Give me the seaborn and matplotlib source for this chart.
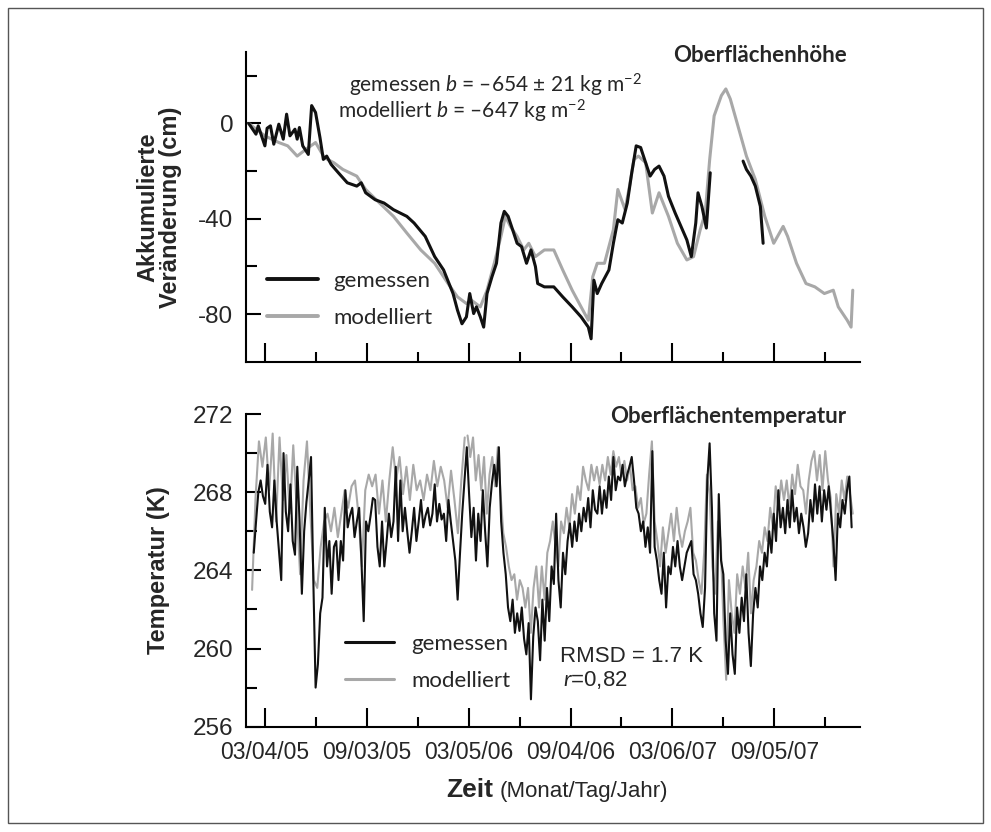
import matplotlib
matplotlib.use("Agg")
import matplotlib.pyplot as plt
import matplotlib.dates as mdates
from matplotlib.lines import Line2D
from matplotlib.patches import Rectangle
from matplotlib.ticker import FixedLocator, NullFormatter
import numpy as np
import pandas as pd
import seaborn as sns

sns.set_style("white")
plt.rcParams["font.family"] = ["Liberation Sans", "DejaVu Sans"]
plt.rcParams["axes.unicode_minus"] = False
plt.rcParams["mathtext.fontset"] = "custom"
plt.rcParams["mathtext.rm"] = "Lato"
plt.rcParams["mathtext.it"] = "Lato:italic"
plt.rcParams["mathtext.bf"] = "Lato:bold"

SCHWARZ = "#111111"
GRAU = "#a8a8a8"

# Bezugsdatum 03/04/05, Ticks alle 183 Tage
bezug = pd.Timestamp("2005-03-04")
tick_tage = [0, 183, 366, 549, 732, 915]

# ---- Oberflaechenhoehe (Tage seit 03/04/05, cm)
hoehe_gem_tage = [-29, -16, -12, 0, 4, 10, 16, 25, 33, 39,
                  45, 54, 58, 62, 68, 78, 84, 91, 99, 105,
                  111, 119, 132, 148, 165, 173, 181, 198, 214, 231,
                  243, 255, 268, 288, 305, 321, 338, 346, 354, 362,
                  368, 375, 380, 387, 393, 399, 408, 416, 424, 430,
                  437, 445, 453, 461, 470, 478, 486, 490, 502, 519,
                  535, 552, 568, 581, 586, 591, 597, 605, 618, 626,
                  634, 642, 651, 659, 667, 675, 684, 692, 700, 708,
                  717, 725, 737, 750, 758, 766, 774, 778, 785, 793,
                  800]
hoehe_gem_cm = [0.0, -4.5, -1.0, -9.4, -2.0, -1.0, -8.7, -0.3, -6.6, 3.9,
                -5.2, -2.4, -6.6, -1.7, -9.4, -13.0, 7.5, 4.6, -6.0, -15.1,
                -13.7, -17.2, -20.7, -24.9, -26.3, -24.9, -29.1, -32.0, -33.4, -36.2,
                -37.6, -39.0, -41.8, -47.4, -55.9, -61.5, -71.4, -78.4, -84.1, -81.2,
                -71.4, -79.8, -77.0, -81.2, -85.5, -71.4, -64.3, -58.7, -41.8, -36.9,
                -39.0, -44.6, -50.3, -51.7, -58.7, -53.1, -60.1, -67.2, -68.6, -68.6,
                -72.8, -77.0, -81.2, -85.5, -90.4, -65.8, -71.4, -67.2, -61.5, -50.3,
                -40.4, -41.8, -33.4, -20.7, -9.4, -10.1, -16.5, -22.1, -19.3, -17.9,
                -22.1, -30.6, -37.6, -44.6, -48.9, -55.9, -41.8, -29.1, -34.8, -43.9,
                -20.7]
# zweites Stueck nach der Messluecke
hoehe_gem2_tage = [859, 865, 873, 881, 890, 895]
hoehe_gem2_cm = [-15.8, -19.3, -22.1, -26.3, -34.8, -50.3]

hoehe_mod_tage = [-29, 0, 25, 41, 58, 74, 91, 107, 124, 140,
                  165, 181, 206, 231, 255, 280, 305, 329, 346, 362,
                  371, 387, 399, 412, 424, 432, 441, 453, 465, 474,
                  486, 502, 519, 535, 552, 568, 581, 589, 597, 610,
                  626, 634, 647, 655, 663, 671, 684, 696, 708, 725,
                  741, 758, 770, 782, 791, 799, 807, 820, 828, 836,
                  848, 865, 881, 898, 914, 931, 939, 955, 972, 988,
                  1005, 1021, 1030, 1046, 1053, 1056]
hoehe_mod_cm = [0.0, -5.2, -8.0, -9.4, -13.7, -10.8, -8.0, -14.4, -16.5, -19.3,
                -22.1, -27.7, -33.4, -39.0, -46.0, -53.1, -58.7, -67.2, -72.8, -75.6,
                -74.2, -77.0, -70.0, -58.7, -47.4, -39.0, -43.2, -47.4, -53.1, -50.3,
                -55.9, -53.1, -53.1, -61.5, -70.0, -77.0, -82.6, -64.3, -58.7, -58.7,
                -44.6, -27.7, -36.2, -26.3, -15.1, -13.7, -16.5, -37.6, -29.1, -39.0,
                -50.3, -57.3, -55.9, -44.6, -37.6, -15.1, 3.2, 11.7, 14.5, 10.3,
                0.4, -13.7, -23.5, -39.0, -50.3, -43.2, -47.4, -58.7, -67.2, -68.6,
                -71.4, -70.0, -77.0, -82.6, -85.5, -70.0]

# ---- Oberflaechentemperatur (K), gleichmaessig zwischen Start und Ende
temp_gem_start, temp_gem_ende = "2005-02-12", "2008-01-22"
temp_gem_K = [
    264.9, 266.5, 268.0, 268.6, 267.8, 267.4, 269.4, 267.0, 266.2, 268.6,
    266.5, 265.0, 263.5, 270.0, 267.0, 266.0, 268.4, 265.5, 264.8, 269.3,
    266.5, 262.8, 266.0, 267.5, 268.6, 269.8, 263.5, 258.0, 259.2, 261.8,
    262.6, 267.2, 264.2, 265.5, 262.8, 265.2, 265.5,
    263.5, 265.5, 264.5, 268.1, 266.2, 266.8, 267.2, 265.7, 266.5, 267.2,
    264.5, 261.4, 266.5, 266.0, 266.8, 267.7, 267.6, 265.2, 264.2, 266.5,
    264.2, 265.5, 266.9, 265.7, 266.5, 269.3, 265.5, 268.6, 266.0, 267.2,
    266.0, 264.9, 266.0, 267.2, 265.5, 266.5, 267.6, 266.2, 266.8, 267.2,
    266.3, 266.9, 268.4, 266.5, 267.4, 266.6, 266.9, 265.5, 267.6, 266.5,
    265.5, 264.5, 262.5, 264.8, 266.9, 268.6, 270.3, 267.9, 265.7, 267.2,
    264.5, 266.9, 265.5, 268.1, 266.0, 264.2, 267.2, 268.5, 269.4, 268.3,
    270.3, 266.5, 264.9, 263.8, 262.1, 261.4, 262.5, 260.8, 261.8, 260.9,
    262.1, 260.5, 259.7, 261.3, 257.4,
    260.6, 262.1, 261.4, 259.4, 262.5, 260.4, 263.1, 261.4, 264.2, 263.3,
    266.9, 263.5, 262.1, 264.9, 263.8, 265.5, 266.4, 265.2, 266.5, 265.5,
    266.9, 266.0, 267.2, 266.5, 267.7, 266.2, 268.1, 267.1, 266.9, 268.3,
    266.9, 268.1, 267.2, 268.8, 267.6, 269.8, 268.1, 268.8, 268.6, 269.4,
    268.3, 268.9, 269.3, 269.8, 268.6, 267.2, 266.9, 266.0, 266.5, 265.2,
    266.2, 264.9, 270.1, 265.2, 264.5, 263.5, 262.8, 264.9, 262.1, 264.2,
    263.8, 265.2, 264.2, 265.5, 264.2, 263.5, 264.2, 264.9, 265.2, 265.5,
    263.8, 263.5, 262.8, 261.8, 261.1, 263.1, 268.6, 270.5, 267.2, 261.8,
    260.4, 267.9, 264.5, 263.8, 260.4, 258.7, 261.8, 259.7, 258.7, 262.1,
    260.8, 262.6, 261.4, 263.8, 260.8, 259.1, 261.8, 263.1, 262.1, 264.2,
    263.5, 264.9, 264.2, 266.0, 264.9, 266.9, 265.5, 268.1, 266.2, 267.2,
    265.9, 267.6, 266.2, 268.1, 266.5, 267.2, 265.9, 266.9, 266.2, 265.2,
    265.9, 267.6, 266.5, 268.4, 266.9, 268.3, 266.5, 268.1, 267.1, 268.3,
    266.9, 265.5, 263.5, 266.9, 266.2, 267.6, 266.9, 268.1, 268.8, 266.2]

temp_mod1_start, temp_mod1_ende = "2005-02-09", "2006-02-26"
temp_mod1_K = [
    263.0, 267.7, 270.6, 269.3, 270.8, 268.1, 271.0, 266.5, 270.8, 267.6,
    269.9, 266.9, 270.4, 267.2, 263.8, 268.6, 270.6, 266.9, 263.5, 263.1,
    265.2, 266.5, 266.9, 266.0, 267.2, 265.7, 266.9, 268.1, 267.2, 268.3,
    268.6, 266.9, 264.2, 268.1, 268.9, 268.3, 268.9, 266.9, 268.6, 266.5,
    268.6, 270.3, 268.6, 269.8, 267.9, 269.3, 267.6, 269.4, 268.1, 268.6,
    267.6, 268.9, 268.1, 269.6, 268.3, 269.3, 268.6, 267.2, 269.1, 267.6,
    265.9, 268.6, 270.8]
temp_mod2_start, temp_mod2_ende = "2006-03-03", "2008-01-24"
temp_mod2_K = [
    270.9, 269.8, 270.8, 268.6, 269.9, 268.1, 269.8, 266.9, 268.9, 269.8,
    268.3, 270.3, 267.9, 265.9, 265.2, 264.2, 263.5, 263.8, 262.5, 263.5,
    263.1, 262.1, 263.1, 260.8, 263.1, 264.2, 262.1, 264.2, 262.5, 264.9,
    265.5, 266.5, 265.2, 264.2, 266.5, 265.9, 267.2, 266.2, 267.9, 266.9,
    268.3, 267.6, 269.3, 268.6, 268.1, 269.4, 268.6, 269.3, 268.4, 269.4,
    268.6, 269.8, 268.9, 270.1, 269.3, 269.8, 268.8, 269.6, 268.6, 269.4,
    268.1, 268.3, 267.2, 267.7, 266.4, 266.9, 268.9, 270.6, 266.5, 265.5,
    264.2, 266.2, 264.9, 265.9, 266.9, 265.5, 267.2, 265.9, 265.2, 266.0,
    266.5, 267.2, 264.9, 264.5, 263.5, 262.8, 264.9, 268.9, 267.9, 264.2,
    262.8, 266.5, 265.5, 261.4, 258.4, 263.5, 261.8, 260.8, 263.8, 262.8,
    264.2, 263.1, 264.9, 261.8, 263.5, 264.2, 265.5, 264.9, 266.2, 265.5,
    267.2, 266.2, 268.3, 267.2, 268.6, 267.6, 268.6, 267.2, 268.9, 267.9,
    269.4, 268.3, 268.1, 266.9, 268.6, 269.6, 270.1, 268.6, 269.9, 268.1,
    270.1, 268.6, 267.7, 264.2, 267.9, 266.9, 268.6, 267.6, 268.8, 267.9,
    266.9]


def tage_zu_datum(tage):
    return bezug + pd.to_timedelta(tage, unit="D")


fig = plt.figure(figsize=(9.91, 8.32), dpi=100)
ax1 = fig.add_axes([0.2482, 0.5653, 0.6196, 0.3722])
ax2 = fig.add_axes([0.2482, 0.1266, 0.6196, 0.3758])

# Rahmen um die ganze Abbildung
fig.patches.append(Rectangle((8 / 991, 1 - 823 / 832), 975 / 991, 815 / 832,
                             transform=fig.transFigure, fill=False,
                             lw=1.0, ec="#555555"))

# obere Grafik
sns.lineplot(x=tage_zu_datum(hoehe_mod_tage), y=hoehe_mod_cm, ax=ax1,
             color=GRAU, lw=2.2, estimator=None, sort=False)
sns.lineplot(x=tage_zu_datum(hoehe_gem_tage), y=hoehe_gem_cm, ax=ax1,
             color=SCHWARZ, lw=2.2, estimator=None, sort=False)
sns.lineplot(x=tage_zu_datum(hoehe_gem2_tage), y=hoehe_gem2_cm, ax=ax1,
             color=SCHWARZ, lw=2.2, estimator=None, sort=False)

# untere Grafik
sns.lineplot(x=pd.date_range(temp_mod1_start, temp_mod1_ende, periods=len(temp_mod1_K)),
             y=temp_mod1_K, ax=ax2, color=GRAU, lw=1.5, estimator=None, sort=False)
sns.lineplot(x=pd.date_range(temp_mod2_start, temp_mod2_ende, periods=len(temp_mod2_K)),
             y=temp_mod2_K, ax=ax2, color=GRAU, lw=1.5, estimator=None, sort=False)
sns.lineplot(x=pd.date_range(temp_gem_start, temp_gem_ende, periods=len(temp_gem_K)),
             y=temp_gem_K, ax=ax2, color=SCHWARZ, lw=1.5, estimator=None, sort=False)

major = [mdates.date2num(tage_zu_datum(t)) for t in tick_tage]
minor = [mdates.date2num(tage_zu_datum(t + 91.5)) for t in tick_tage]
for ax in (ax1, ax2):
    ax.set_xlim(tage_zu_datum(-34), tage_zu_datum(1069))
    ax.xaxis.set_major_locator(FixedLocator(major))
    ax.xaxis.set_minor_locator(FixedLocator(minor))
    ax.xaxis.set_minor_formatter(NullFormatter())
    sns.despine(ax=ax)
    for s in ("left", "bottom"):
        ax.spines[s].set_linewidth(1.5)
        ax.spines[s].set_color("black")
    ax.tick_params(axis="x", which="major", direction="in", length=14, width=1.5,
                   color="black", pad=10, labelsize=16.5, bottom=True)
    ax.tick_params(axis="x", which="minor", direction="in", length=7, width=1.5,
                   color="black", bottom=True)
    ax.tick_params(axis="y", which="major", direction="in", length=11, width=1.5,
                   color="black", pad=9, labelsize=17.5, left=True)
    ax.tick_params(axis="y", which="minor", direction="in", length=8, width=1.5,
                   color="black", left=True)
    ax.set_xlabel("")

ax1.xaxis.set_major_formatter(NullFormatter())
ax2.xaxis.set_major_formatter(mdates.DateFormatter("%m/%d/%y"))

ax1.set_ylim(-100, 30)
ax1.set_yticks([-80, -40, 0])
ax1.set_yticks([-60, -20, 20], minor=True)
ax2.set_ylim(256, 272)
ax2.set_yticks([256, 260, 264, 268, 272])
ax2.set_yticks([258, 262, 266, 270], minor=True)

ax1.set_ylabel("Akkumulierte\nVeränderung (cm)", fontsize=17, fontweight="bold",
               linespacing=1.0)
ax1.yaxis.set_label_coords(-0.104, 0.5)
ax2.set_ylabel("Temperatur (K)", fontsize=17, fontweight="bold")
ax2.yaxis.set_label_coords(-0.124, 0.5)

ax1.text(0.979, 0.990, "Oberflächenhöhe", transform=ax1.transAxes, ha="right",
         va="center", fontsize=16, fontweight="bold", family="Lato")
ax2.text(0.977, 0.991, "Oberflächentemperatur", transform=ax2.transAxes, ha="right",
         va="center", fontsize=16, fontweight="bold", family="Lato")

ax1.text(0.168, 0.893, r"gemessen $b$ = –654 ± 21 kg m$^{-2}$", transform=ax1.transAxes,
         ha="left", va="center", fontsize=15, family="Lato")
ax1.text(0.150, 0.807, r"modelliert $b$ = –647 kg m$^{-2}$", transform=ax1.transAxes,
         ha="left", va="center", fontsize=15, family="Lato")

griffe = [Line2D([], [], color=SCHWARZ, lw=2.8), Line2D([], [], color=GRAU, lw=2.8)]
ax1.legend(griffe, ["gemessen", "modelliert"], loc="upper left",
           bbox_to_anchor=(0.034, 0.293), frameon=False, borderpad=0,
           borderaxespad=0, handlelength=2.3, handletextpad=0.7,
           labelspacing=0.75, prop={"family": "Lato", "size": 16})
griffe2 = [Line2D([], [], color=SCHWARZ, lw=2.2), Line2D([], [], color=GRAU, lw=2.2)]
ax2.legend(griffe2, ["gemessen", "modelliert"], loc="upper left",
           bbox_to_anchor=(0.161, 0.296), frameon=False, borderpad=0,
           borderaxespad=0, handlelength=2.2, handletextpad=0.8,
           labelspacing=0.75, prop={"family": "Lato", "size": 16})

ax2.text(0.512, 0.224, "RMSD = 1.7 K", transform=ax2.transAxes, ha="left",
         va="center", fontsize=16)
ax2.text(0.516, 0.149, r"$r$=0,82", transform=ax2.transAxes, ha="left",
         va="center", fontsize=16)

fig.text(446.7 / 991, 1 - 797 / 832, "Zeit", fontsize=19, fontweight="bold",
         ha="left", va="baseline")
fig.text(500 / 991, 1 - 797 / 832, "(Monat/Tag/Jahr)", fontsize=16,
         ha="left", va="baseline")

fig.savefig("out.png", dpi=100, facecolor="white")
